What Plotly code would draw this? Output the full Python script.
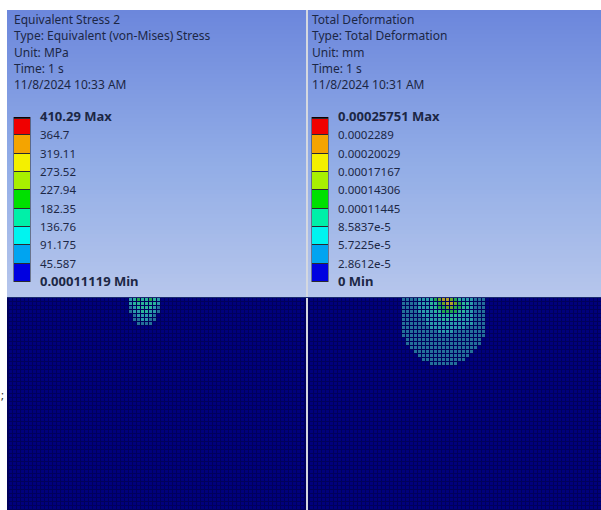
import numpy as np
import plotly.graph_objects as go

W, H = 601, 510
FONT = "Noto Sans"
INK = "#1c2745"
BIG = '<span style="font-size:13px"><b>{}</b></span>'

stress_header = ["Equivalent Stress 2", "Type: Equivalent (von-Mises) Stress", "Unit: MPa", "Time: 1 s", "11/8/2024 10:33 AM"]
deform_header = ["Total Deformation", "Type: Total Deformation", "Unit: mm", "Time: 1 s", "11/8/2024 10:31 AM"]

stress_levels = [0.00011119, 45.587, 91.175, 136.76, 182.35, 227.94, 273.52, 319.11, 364.7, 410.29]
stress_labels = [BIG.format("0.00011119 Min"), "45.587", "91.175", "136.76", "182.35", "227.94", "273.52", "319.11", "364.7", BIG.format("410.29 Max")]
deform_levels = [0, 2.8612e-5, 5.7225e-5, 8.5837e-5, 0.00011445, 0.00014306, 0.00017167, 0.00020029, 0.0002289, 0.00025751]
deform_labels = [BIG.format("0 Min"), "2.8612e-5", "5.7225e-5", "8.5837e-5", "0.00011445", "0.00014306", "0.00017167", "0.00020029", "0.0002289", BIG.format("0.00025751 Max")]
band_colors = ["#0000e0", "#00a4f0", "#00f4f0", "#00f0a8", "#00e000", "#a8f000", "#f4f000", "#f4a400", "#f00000", "#100000"]

mesh_colors = ["#00007c", "#23709a", "#2a9aaa", "#2ab49a", "#20a850", "#6aa828", "#b0a028", "#c08828"]

stress_blob = ["23433432", "23333332", "12333321", "12233221", "01222210", "01122110", "00111100"]
deform_blob = [
    "111122234566543222111", "111122233456654332111", "111122233445544332111",
    "111122223344443322111", "111112222333333222111", "111111222233332222111",
    "111111222222222222111", "111111122222222211111", "111111111222211111111",
    "111111111111111111111", "011111111111111111110", "011111111111111111110",
    "001111111111111111100", "000111111111111111000", "000011111111111110000",
    "000001111111111100000", "000000011111110000000",
]

# Layout in page pixels
TOP, MESH_TOP = 10, 298
P1, P2, P3 = 7, 306, 601
P2B = 308
CELL = 4


def field(ncols, blob, col0):
    ny = (H - MESH_TOP) // CELL + 1
    z = np.zeros((ny, ncols))
    for r, row in enumerate(blob):
        for c, v in enumerate(row):
            z[r, col0 + c] = int(v)
    return z


def scale(colors):
    n = len(colors)
    out = []
    for i, c in enumerate(colors):
        out += [[i / n, c], [(i + 1) / n, c]]
    return out


fig = go.Figure()

# Gradient header backgrounds
grad_edges = np.linspace(TOP, MESH_TOP, 73)
grad_z = np.linspace(0, 1, 72).reshape(-1, 1)
grad_scale = [[0, "#6c87dc"], [0.5, "#8fabe6"], [1, "#b6c6ec"]]
for a, b in ((P1, P2), (P2B, P3)):
    fig.add_trace(go.Heatmap(x=[a, b], y=grad_edges, z=grad_z, colorscale=grad_scale, zmin=0, zmax=1,
                             showscale=False, hoverinfo="skip"))

# Mesh fields
for a, ncols, blob, col0 in ((P1, 74, stress_blob, 30), (P2B, 73, deform_blob, 23)):
    z = field(ncols, blob, col0)
    fig.add_trace(go.Heatmap(z=z, x0=a + 2 + CELL / 2, dx=CELL, y0=MESH_TOP + CELL / 2, dy=CELL,
                             colorscale=scale(mesh_colors), zmin=-0.5, zmax=7.5, xgap=1, ygap=1,
                             showscale=False, hoverinfo="skip"))

shapes = [
    dict(type="rect", xref="x", yref="y", x0=P1, x1=P2, y0=MESH_TOP, y1=H, fillcolor="#00005c", line_width=0, layer="below"),
    dict(type="rect", xref="x", yref="y", x0=P2B, x1=P3, y0=MESH_TOP, y1=H, fillcolor="#00005c", line_width=0, layer="below"),
    dict(type="rect", xref="x", yref="y", x0=P2, x1=P2B, y0=TOP, y1=H, fillcolor="#d4d8e0", line_width=0, layer="below"),
    dict(type="line", xref="x", yref="y", x0=P1, x1=P3, y0=MESH_TOP - 0.5, y1=MESH_TOP - 0.5, line=dict(color="#1a2a70", width=1)),
]

LEG_BOTTOM, LEG_TOP = 282, 117


def legend(levels, labels, axis_name, bar_x0, bar_x1, lab_x, cap):
    edges = levels[:-1] + [cap, levels[-1]]
    z = [[i] for i in range(len(band_colors))]
    yname = "y" + axis_name
    fig.add_trace(go.Heatmap(x=[bar_x0 - 0.5, bar_x1 + 0.5], y=[levels[0], levels[-1]], z=[[0]], yaxis=yname,
                             colorscale=[[0, "#2a2a30"], [1, "#2a2a30"]], showscale=False, hoverinfo="skip"))
    fig.add_trace(go.Heatmap(x=[bar_x0, bar_x1], y=edges, z=z, yaxis=yname,
                             colorscale=scale(band_colors), zmin=-0.5, zmax=9.5, ygap=1,
                             showscale=False, hoverinfo="skip"))
    fig.layout["yaxis" + axis_name] = dict(
        domain=[1 - LEG_BOTTOM / H, 1 - LEG_TOP / H], range=[levels[0], levels[-1]],
        anchor="free", position=lab_x / W, side="right", automargin=False,
        tickvals=levels, ticktext=labels, ticks="", showgrid=False, zeroline=False, showline=False,
        tickfont=dict(family=FONT, size=11.5, color=INK),
    )


legend(stress_levels, stress_labels, "2", 14, 30, 39, 405.0)
legend(deform_levels, deform_labels, "3", 312, 328, 337, 0.000254)

annotations = []
for x0, lines in ((14, stress_header), (312, deform_header)):
    for i, t in enumerate(lines):
        annotations.append(dict(x=x0, y=19.5 + i * 16.3, xref="x", yref="y", text=t, showarrow=False,
                                xanchor="left", yanchor="middle", xshift=-2,
                                font=dict(family=FONT, size=12, color=INK)))
annotations.append(dict(x=2, y=394, xref="x", yref="y", text=";", showarrow=False,
                        font=dict(family=FONT, size=11, color="#222222")))

fig.update_layout(
    width=W, height=H, autosize=False,
    margin=dict(l=0, r=0, t=0, b=0, pad=0),
    paper_bgcolor="white", plot_bgcolor="rgba(0,0,0,0)",
    showlegend=False, shapes=shapes, annotations=annotations,
    xaxis=dict(range=[0, W], domain=[0, 1], visible=False, fixedrange=True, automargin=False),
    yaxis=dict(range=[H, 0], domain=[0, 1], visible=False, fixedrange=True, automargin=False),
)
fig.write_html("out.html", config={"displayModeBar": False},
               post_script="document.body.style.margin='0';document.body.style.overflow='hidden';")
